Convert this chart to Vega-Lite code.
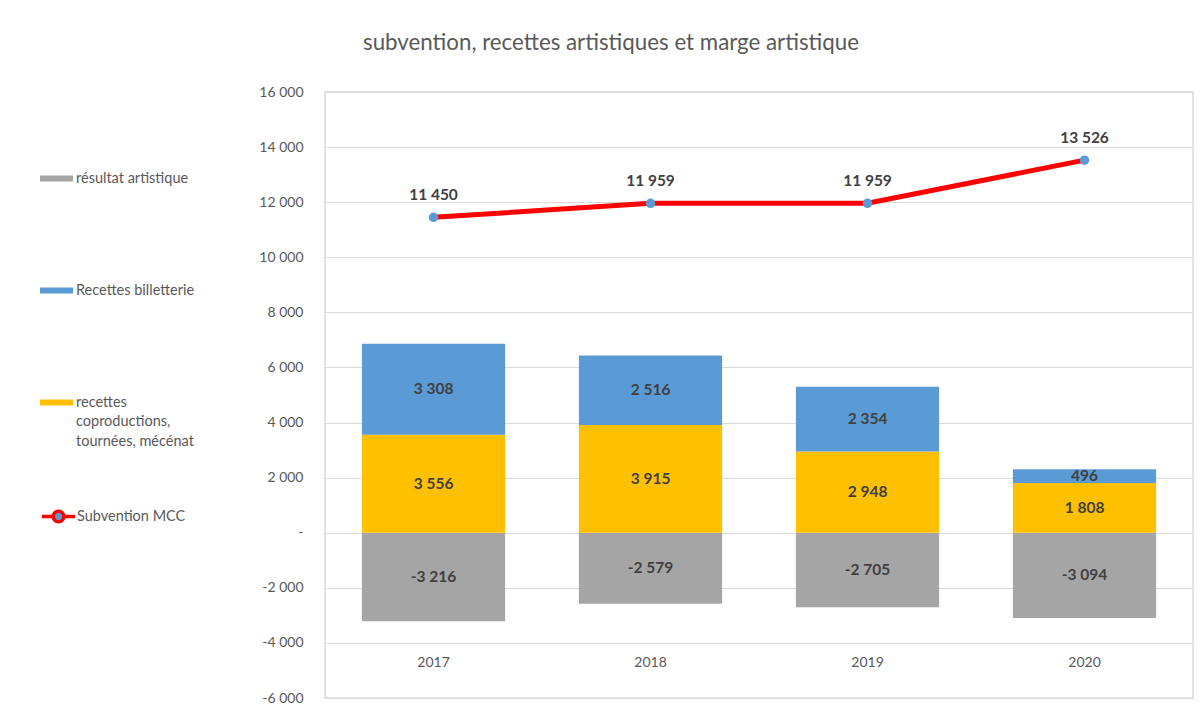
{
  "$schema": "https://vega.github.io/schema/vega-lite/v6.json",
  "width": 868,
  "height": 606,
  "autosize": {"type": "none"},
  "padding": {"left": 325, "top": 92, "right": 7, "bottom": 17},
  "background": "white",
  "title": {
    "text": "subvention, recettes artistiques et marge artistique",
    "fontSize": 22.3,
    "font": "Lato",
    "fontWeight": "normal",
    "color": "#595959",
    "anchor": "middle",
    "dx": -148,
    "offset": 31
  },
  "config": {
    "font": "Lato",
    "view": {"stroke": "#d9d9d9", "strokeWidth": 1.5},
    "locale": {
      "number": {
        "decimal": ",",
        "thousands": " ",
        "grouping": [3],
        "currency": ["", " €"],
        "minus": "-"
      }
    }
  },
  "datasets": {
    "barres": [
      {"annee": "2017", "serie": "résultat artistique", "valeur": -3216, "ordre": 1},
      {"annee": "2017", "serie": "recettes coproductions, tournées, mécénat", "valeur": 3556, "ordre": 2},
      {"annee": "2017", "serie": "Recettes billetterie", "valeur": 3308, "ordre": 3},
      {"annee": "2018", "serie": "résultat artistique", "valeur": -2579, "ordre": 1},
      {"annee": "2018", "serie": "recettes coproductions, tournées, mécénat", "valeur": 3915, "ordre": 2},
      {"annee": "2018", "serie": "Recettes billetterie", "valeur": 2516, "ordre": 3},
      {"annee": "2019", "serie": "résultat artistique", "valeur": -2705, "ordre": 1},
      {"annee": "2019", "serie": "recettes coproductions, tournées, mécénat", "valeur": 2948, "ordre": 2},
      {"annee": "2019", "serie": "Recettes billetterie", "valeur": 2354, "ordre": 3},
      {"annee": "2020", "serie": "résultat artistique", "valeur": -3094, "ordre": 1},
      {"annee": "2020", "serie": "recettes coproductions, tournées, mécénat", "valeur": 1808, "ordre": 2},
      {"annee": "2020", "serie": "Recettes billetterie", "valeur": 496, "ordre": 3}
    ],
    "subvention": [
      {"annee": "2017", "valeur": 11450},
      {"annee": "2018", "valeur": 11959},
      {"annee": "2019", "valeur": 11959},
      {"annee": "2020", "valeur": 13526}
    ]
  },
  "encoding": {
    "x": {
      "field": "annee",
      "type": "nominal",
      "scale": {"paddingInner": 0.34, "paddingOuter": 0.17},
      "axis": {
        "title": null,
        "orient": "bottom",
        "labelPadding": -43,
        "domain": false,
        "ticks": false,
        "labelFontSize": 14,
        "labelColor": "#595959",
        "labelAngle": 0,
        "labelFont": "Lato"
      }
    }
  },
  "layer": [
    {
      "data": {"name": "barres"},
      "mark": {"type": "bar"},
      "encoding": {
        "y": {
          "field": "valeur",
          "type": "quantitative",
          "stack": "zero",
          "scale": {"domain": [-6000, 16000], "nice": false, "zero": false},
          "axis": {
            "title": null,
            "values": [-6000, -4000, -2000, 0, 2000, 4000, 6000, 8000, 10000, 12000, 14000, 16000],
            "format": ",d",
            "labelExpr": "datum.value == 0 ? '-' : datum.label",
            "grid": true,
            "gridColor": "#d9d9d9",
            "gridWidth": 1.2,
            "domain": false,
            "ticks": false,
            "labelPadding": 22,
            "labelFontSize": 14,
            "labelColor": "#595959",
            "labelFont": "Lato"
          }
        },
        "color": {
          "field": "serie",
          "type": "nominal",
          "scale": {
            "domain": ["résultat artistique", "Recettes billetterie", "recettes coproductions, tournées, mécénat"],
            "range": ["#a5a5a5", "#5b9bd5", "#ffc000"]
          },
          "legend": {
            "orient": "none",
            "legendX": -285,
            "legendY": 70,
            "direction": "vertical",
            "title": null,
            "labelFontSize": 14.5,
            "labelColor": "#595959",
            "labelFont": "Lato",
            "labelBaseline": "middle",
            "rowPadding": 89,
            "symbolSize": 1089,
            "symbolType": "M-1,-0.18H1V0.18H-1Z",
            "symbolStrokeWidth": 0,
            "labelOffset": 3,
            "labelLimit": 300,
            "labelExpr": "datum.label === 'recettes coproductions, tournées, mécénat' ? ['recettes', 'coproductions,', 'tournées, mécénat'] : datum.label",
            "encode": {
              "labels": {"update": {"lineHeight": {"value": 19.5}}},
              "symbols": {"update": {"opacity": {"value": 1}}}
            }
          }
        },
        "order": {"field": "ordre", "type": "quantitative"}
      }
    },
    {
      "data": {"name": "barres"},
      "transform": [
        {"stack": "valeur", "groupby": ["annee"], "sort": [{"field": "ordre", "order": "ascending"}], "as": ["v0", "v1"]},
        {"fold": ["v0", "v1"], "as": ["bord", "pos"]},
        {"aggregate": [{"op": "mean", "field": "pos", "as": "milieu"}], "groupby": ["annee", "serie", "valeur"]}
      ],
      "mark": {"type": "text", "fontSize": 15.5, "fontWeight": "bold", "color": "#404040", "font": "Lato", "baseline": "middle"},
      "encoding": {
        "y": {"field": "milieu", "type": "quantitative"},
        "text": {"field": "valeur", "type": "quantitative", "format": ",d"}
      }
    },
    {
      "data": {"name": "subvention"},
      "mark": {"type": "line", "strokeWidth": 5},
      "encoding": {
        "y": {"field": "valeur", "type": "quantitative"},
        "stroke": {
          "datum": "Subvention MCC",
          "type": "nominal",
          "scale": {"domain": ["Subvention MCC"], "range": ["#ff0000"]},
          "legend": {
            "orient": "none",
            "legendX": -285,
            "legendY": 406,
            "title": null,
            "labelFontSize": 14.5,
            "labelColor": "#595959",
            "labelFont": "Lato",
            "labelBaseline": "middle",
            "symbolSize": 1089,
            "symbolType": "M-1,0H-0.32M0.32,0H1M0.32,0A0.32,0.32,0,1,1,-0.32,0A0.32,0.32,0,1,1,0.32,0Z",
            "symbolFillColor": "#5b9bd5",
            "symbolStrokeWidth": 3.5,
            "labelOffset": 0,
            "encode": {
              "symbols": {"update": {"fill": {"value": "#5b9bd5"}, "stroke": {"value": "#ff0000"}, "strokeWidth": {"value": 3.5}, "opacity": {"value": 1}}}
            }
          }
        }
      }
    },
    {
      "data": {"name": "subvention"},
      "mark": {"type": "point", "filled": true, "opacity": 1, "size": 90, "color": "#5b9bd5"},
      "encoding": {
        "y": {"field": "valeur", "type": "quantitative"}
      }
    },
    {
      "data": {"name": "subvention"},
      "mark": {"type": "text", "fontSize": 15.5, "fontWeight": "bold", "color": "#404040", "font": "Lato", "dy": -22},
      "encoding": {
        "y": {"field": "valeur", "type": "quantitative"},
        "text": {"field": "valeur", "type": "quantitative", "format": ",d"}
      }
    }
  ]
}
